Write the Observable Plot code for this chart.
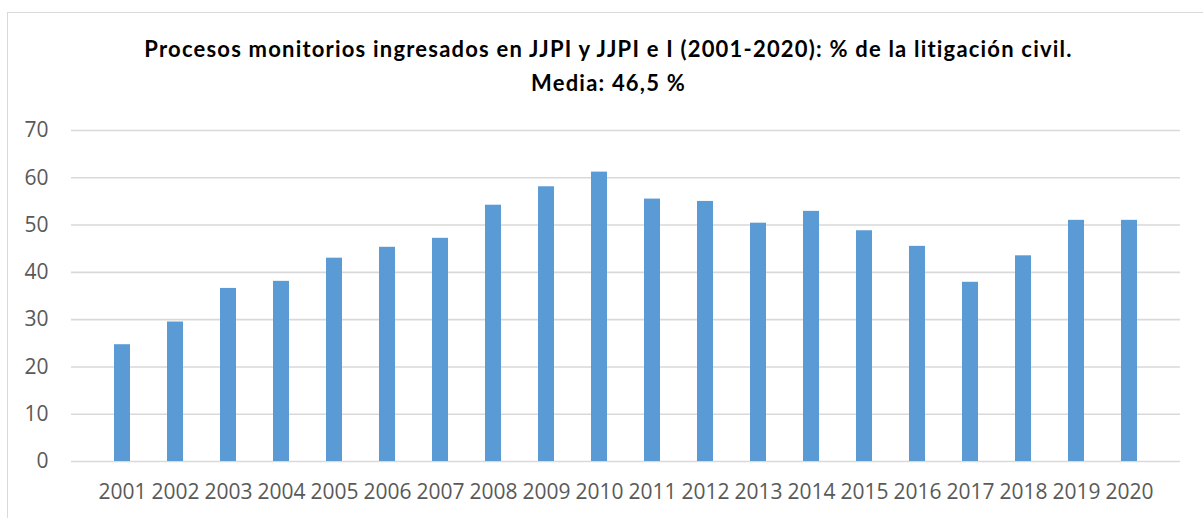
<!DOCTYPE html>
<html>
<head>
<meta charset="utf-8">
<script src="https://cdn.jsdelivr.net/npm/d3@7"></script>
<script src="https://cdn.jsdelivr.net/npm/@observablehq/plot@0.6"></script>
<style>
  html, body { margin: 0; padding: 0; background: #fff; width: 1203px; height: 518px; overflow: hidden; }
  #frame { position: absolute; left: 7px; top: 12px; width: 1220px; height: 530px; border: 1px solid #d9d9d9; box-sizing: border-box; }
  #title { position: absolute; left: 0; top: 32px; width: 1217px; text-align: center; font-family: Lato, "Open Sans", sans-serif; font-weight: bold; font-size: 22px; letter-spacing: 1.2px; line-height: 34px; color: #000; }
  #chart { position: absolute; left: 0; top: 110px; }
</style>
</head>
<body>
<div id="frame"></div>
<div id="title">Procesos monitorios ingresados en JJPI y JJPI e I (2001-2020): % de la litigación civil.<br>Media: 46,5 %</div>
<div id="chart"></div>
<script>
const years = ["2001","2002","2003","2004","2005","2006","2007","2008","2009","2010","2011","2012","2013","2014","2015","2016","2017","2018","2019","2020"];
const values = [24.7, 29.5, 36.6, 38.1, 43.0, 45.3, 47.2, 54.2, 58.1, 61.2, 55.5, 55.0, 50.4, 52.9, 48.8, 45.5, 37.9, 43.5, 51.0, 51.0];
const yTicks = [0, 10, 20, 30, 40, 50, 60, 70];

const data = years.map((y, i) => ({year: y, value: values[i]}));

const chart = Plot.plot({
  width: 1203,
  height: 408,
  marginLeft: 71,
  marginRight: 23,
  marginTop: 20,
  marginBottom: 57,
  style: {fontFamily: "'Open Sans', sans-serif", fontSize: "21px", color: "#595959", background: "transparent"},
  x: {domain: years, padding: 0.69, label: null, tickSize: 0, tickPadding: 23},
  y: {domain: [0, 70], ticks: yTicks, label: null, tickSize: 0, tickPadding: 23},
  marks: [
    Plot.ruleY(yTicks, {stroke: "#d9d9d9", strokeWidth: 1.6}),
    Plot.barY(data, {x: "year", y: "value", fill: "#5b9bd5"}),
    Plot.axisX({tickSize: 0, tickPadding: 23, fill: "#595959", fontSize: 21, fontFamily: "'Open Sans', sans-serif"}),
    Plot.axisY({ticks: yTicks, tickSize: 0, tickPadding: 23, fill: "#595959", fontSize: 21, fontFamily: "'Open Sans', sans-serif"})
  ]
});
document.getElementById("chart").appendChild(chart);
</script>
</body>
</html>
